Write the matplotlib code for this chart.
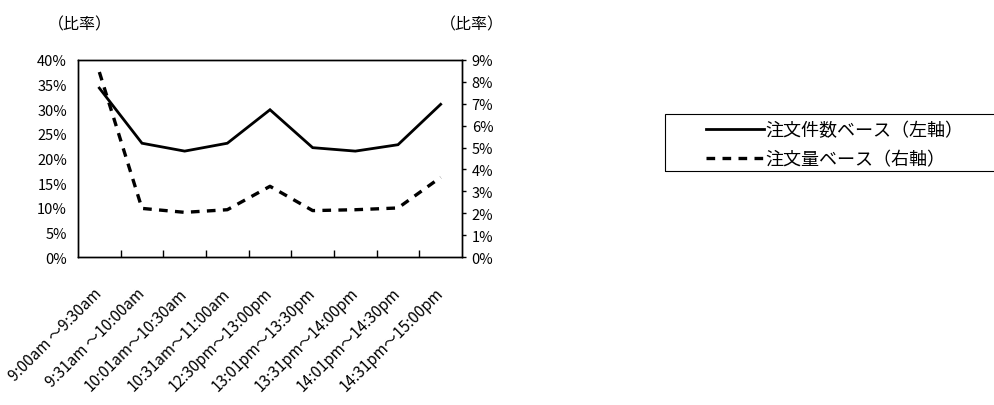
import matplotlib.pyplot as plt
from matplotlib.patches import Rectangle
from matplotlib.ticker import PercentFormatter, MultipleLocator, FixedLocator

plt.rcParams['font.family'] = ['Noto Sans CJK JP', 'DejaVu Sans']

periods = ["9:00am ～9:30am", "9:31am ～10:00am", "10:01am～10:30am",
           "10:31am～11:00am", "12:30pm～13:00pm", "13:01pm～13:30pm",
           "13:31pm～14:00pm", "14:01pm～14:30pm", "14:31pm～15:00pm"]
count_ratio = [34.3, 23.1, 21.5, 23.1, 29.9, 22.2, 21.5, 22.8, 31.0]   # 左軸
volume_ratio = [8.45, 2.22, 2.04, 2.16, 3.23, 2.12, 2.16, 2.24, 3.64]  # 右軸

fig = plt.figure(figsize=(9.95, 4.06), dpi=100)
ax = fig.add_axes([78/995, 1 - 258/406, 384/995, 197/406])
ax2 = ax.twinx()

x = range(len(periods))
l1, = ax.plot(x, count_ratio, color='black', lw=2.0, solid_joinstyle='miter')
l2, = ax2.plot(x, volume_ratio, color='black', lw=2.4, linestyle=(0, (2.6, 2.2)))

ax.set_xlim(-0.5, len(periods) - 0.5)
ax.set_ylim(0, 40)
ax2.set_ylim(0, 9)
ax.yaxis.set_major_locator(MultipleLocator(5))
ax2.yaxis.set_major_locator(MultipleLocator(1))
ax.yaxis.set_major_formatter(PercentFormatter(decimals=0))
ax2.yaxis.set_major_formatter(PercentFormatter(decimals=0))

# カテゴリ境界に目盛り、ラベルは中央
ax.xaxis.set_major_locator(FixedLocator([i + 0.5 for i in range(len(periods) - 1)]))
ax.xaxis.set_major_formatter(plt.NullFormatter())
ax.xaxis.set_minor_locator(FixedLocator(list(x)))
ax.set_xticklabels(periods, minor=True, rotation=45, ha='right', va='center',
                   rotation_mode='anchor', fontsize=11)
ax.tick_params(axis='x', which='major', direction='in', length=5, width=1)
ax.tick_params(axis='x', which='minor', length=0, pad=24)
ax.tick_params(axis='y', length=0, labelsize=10.5, pad=8)
ax2.tick_params(axis='y', direction='out', length=3, width=1, labelsize=10.5, pad=4)

for a in (ax, ax2):
    for s in a.spines.values():
        s.set_linewidth(1.0)

fig.text(48/995, 1 - 25/406, '（比率）', fontsize=11.5, va='center', ha='left')
fig.text(440/995, 1 - 25/406, '（比率）', fontsize=11.5, va='center', ha='left')

# 凡例
fig.patches.append(Rectangle((665/995, 1 - 172/406), 340/995, 57/406,
                             transform=fig.transFigure, fill=False,
                             edgecolor='black', lw=0.8))
fig.legend([l1, l2], ['注文件数ベース（左軸）', '注文量ベース（右軸）'],
           loc='center left', bbox_to_anchor=(697/995, 1 - 146/406),
           frameon=False, fontsize=13, handlelength=3.2, handletextpad=0.1,
           labelspacing=0.6, borderpad=0)

fig.savefig('out.png', dpi=100)
